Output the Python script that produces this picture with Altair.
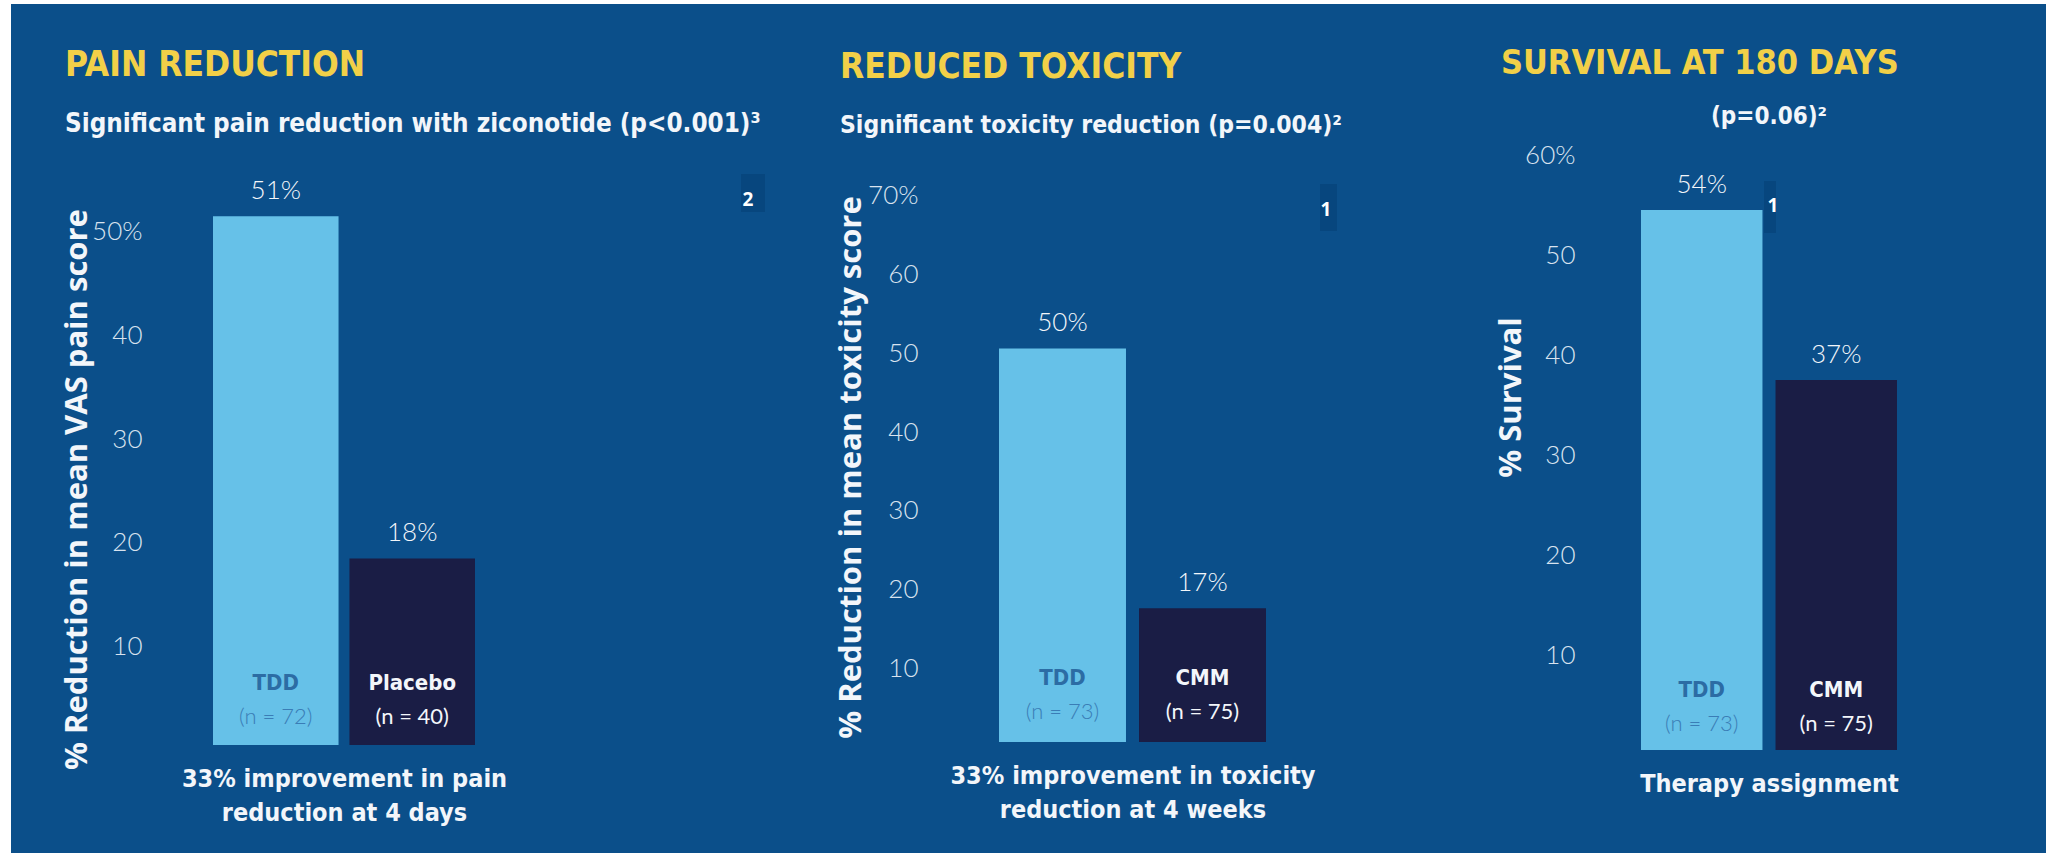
import altair as alt
import pandas as pd

# ---------------- data ----------------
pain_groups = ["TDD", "Placebo"]
pain_values = [51, 18]
pain_n = ["(n = 72)", "(n = 40)"]
pain_ticks = [10, 20, 30, 40, 50]

tox_groups = ["TDD", "CMM"]
tox_values = [50, 17]
tox_n = ["(n = 73)", "(n = 75)"]
tox_ticks = [10, 20, 30, 40, 50, 60, 70]

surv_groups = ["TDD", "CMM"]
surv_values = [54, 37]
surv_n = ["(n = 73)", "(n = 75)"]
surv_ticks = [10, 20, 30, 40, 50, 60]

panel_titles = ["PAIN REDUCTION", "REDUCED TOXICITY", "SURVIVAL AT 180 DAYS"]
panel_subtitles = ["Significant pain reduction with ziconotide (p<0.001)³",
                   "Significant toxicity reduction (p=0.004)²",
                   "(p=0.06)²"]
y_titles = ["% Reduction in mean VAS pain score",
            "% Reduction in mean toxicity score",
            "% Survival"]
captions = [["33% improvement in pain", "reduction at 4 days"],
            ["33% improvement in toxicity", "reduction at 4 weeks"],
            ["Therapy assignment"]]
footnote_marks = ["2", "1", "1"]

# ---------------- styles ----------------
BG = "#0b4f8a"
LIGHT = "#66c1e8"
DARK = "#1a1d45"
YELLOW = "#f2d048"
WHITE = "#f3f6fa"
TICK = "#d9e3ef"
TDD_TXT = "#2c6ca4"
NOTE_BOX = "#07467e"
NARROW = "Liberation Sans Narrow, DejaVu Sans Condensed, Roboto, sans-serif"
WIDE = "Open Sans, DejaVu Sans, sans-serif"
LIGHTF = "Lato, Roboto, sans-serif"

# layout of each panel (plot-area relative)
cfgs = [
    dict(W=786, bars_w=262, pi=0.08, H=595, ymax=57.4, lab_pad=71, yt=(-136, 339),
         title_dx=-148, title_size=35, sub_size=25.8, name_dy=-62, n_dy=-28,
         box=(528, 552, 24, 62), note=(535, 50)),
    dict(W=642, bars_w=267, pi=0.093, H=592, ymax=75.2, lab_pad=81, yt=(-148, 317),
         title_dx=-159, title_size=35, sub_size=24.5, name_dy=-64, n_dy=-30,
         box=(321, 338, 34, 81), note=(327, 60)),
    dict(W=256, bars_w=256, pi=0.097, H=600, ymax=60.0, lab_pad=66, yt=(-130, 247),
         title_dx=-140, title_size=34, sub_size=24, name_dy=-60, n_dy=-26,
         box=(123, 135, 31, 83), note=(132, 56)),
]


def panel(i, groups, values, ns, ticks):
    c = cfgs[i]
    df = pd.DataFrame({
        "group": groups,
        "value": values,
        "n": ns,
        "kind": ["treatment", "comparator"],
        "label": [f"{v}%" for v in values],
        "base": [0] * len(groups),
    })
    x = alt.X("group:N", sort=groups,
              scale=alt.Scale(range=[0, c["bars_w"]], paddingInner=c["pi"], paddingOuter=0),
              axis=alt.Axis(labels=False, ticks=False, domain=False, grid=False,
                            title=captions[i], titleX=c["bars_w"] / 2, titleAlign="center",
                            titleBaseline="top", titlePadding=21, titleFont=NARROW,
                            titleFontSize=25, titleFontWeight="bold", titleColor=WHITE,
                            titleLineHeight=34))

    def yenc(field):
        return alt.Y(field,
                     scale=alt.Scale(domain=[0, c["ymax"]], nice=False, zero=True),
                     axis=alt.Axis(values=ticks, grid=False, ticks=False, tickSize=0, domain=False,
                                   labelExpr=f"datum.value == {ticks[-1]} ? datum.label + '%' : datum.label",
                                   labelPadding=c["lab_pad"], labelOffset=5, labelFont=LIGHTF,
                                   labelFontSize=26, labelFontWeight=300, labelColor=TICK,
                                   labelOverlap=False,
                                   title=y_titles[i], titleX=c["yt"][0], titleY=c["yt"][1],
                                   titleAngle=270, titleAlign="center", titleBaseline="middle",
                                   titleFont=WIDE, titleFontSize=31, titleFontWeight="bold",
                                   titleColor=WHITE))

    base = alt.Chart(df)
    bars = base.mark_bar().encode(
        x=x, y=yenc("value:Q"),
        color=alt.Color("kind:N", scale=alt.Scale(domain=["treatment", "comparator"],
                                                  range=[LIGHT, DARK]), legend=None))
    vals = base.mark_text(font=LIGHTF, fontSize=26, fontWeight=300, color=WHITE,
                          baseline="middle", dy=-25).encode(x=x, y=yenc("value:Q"), text="label:N")
    t_name = base.transform_filter(alt.datum.kind == "treatment").mark_text(
        font=NARROW, fontSize=22, fontWeight="bold", color=TDD_TXT, baseline="middle",
        dy=c["name_dy"]).encode(x=x, y=yenc("base:Q"), text="group:N")
    t_n = base.transform_filter(alt.datum.kind == "treatment").mark_text(
        font=LIGHTF, fontSize=22, fontWeight=300, color="#3a7db6", baseline="middle",
        dy=c["n_dy"]).encode(x=x, y=yenc("base:Q"), text="n:N")
    c_name = base.transform_filter(alt.datum.kind == "comparator").mark_text(
        font=NARROW, fontSize=22, fontWeight="bold", color=WHITE, baseline="middle",
        dy=c["name_dy"]).encode(x=x, y=yenc("base:Q"), text="group:N")
    c_n = base.transform_filter(alt.datum.kind == "comparator").mark_text(
        font=LIGHTF, fontSize=22, fontWeight=400, color=WHITE, baseline="middle",
        dy=c["n_dy"]).encode(x=x, y=yenc("base:Q"), text="n:N")

    note_df = pd.DataFrame({"mark": [footnote_marks[i]]})
    bx1, bx2, by1, by2 = c["box"]
    note_box = alt.Chart(note_df).mark_rect(color=NOTE_BOX).encode(
        x=alt.value(bx1), x2=alt.value(bx2), y=alt.value(by1), y2=alt.value(by2))
    note_txt = alt.Chart(note_df).mark_text(font=WIDE, fontSize=19, fontWeight="bold",
                                            color="white", baseline="middle").encode(
        x=alt.value(c["note"][0]), y=alt.value(c["note"][1]), text="mark:N")

    layers = [note_box, bars, vals, t_name, t_n, c_name, c_n, note_txt]

    if i < 2:
        title = alt.TitleParams(text=panel_titles[i], subtitle=panel_subtitles[i],
                                anchor="start", frame="group", dx=c["title_dx"], offset=13,
                                font=NARROW, fontSize=c["title_size"], fontWeight="bold",
                                color=YELLOW, subtitleFont=NARROW, subtitleFontSize=c["sub_size"],
                                subtitleFontWeight="bold", subtitleColor=WHITE,
                                subtitlePadding=29)
    else:
        sub_df = pd.DataFrame({"t": [panel_subtitles[i]]})
        sub = alt.Chart(sub_df).mark_text(font=NARROW, fontSize=c["sub_size"], fontWeight="bold",
                                          color=WHITE, baseline="middle").encode(
            x=alt.value(c["bars_w"] / 2), y=alt.value(-33), text="t:N")
        layers.append(sub)
        title = alt.TitleParams(text=panel_titles[i], anchor="start", frame="group",
                                dx=c["title_dx"], offset=24, font=NARROW,
                                fontSize=c["title_size"], fontWeight="bold", color=YELLOW)

    return alt.layer(*layers).properties(width=c["W"], height=c["H"], title=title)


p1 = panel(0, pain_groups, pain_values, pain_n, pain_ticks)
p2 = panel(1, tox_groups, tox_values, tox_n, tox_ticks)
p3 = panel(2, surv_groups, surv_values, surv_n, surv_ticks)

# white screenshot edges (left and top), drawn from the last panel's origin
strip_df = pd.DataFrame({"k": [0]})
X0, Y0 = 1897, 150
left_strip = alt.Chart(strip_df).mark_rect(color="white").encode(
    x=alt.value(-X0), x2=alt.value(-X0 + 11), y=alt.value(-Y0), y2=alt.value(853 - Y0))
top_strip = alt.Chart(strip_df).mark_rect(color="white").encode(
    x=alt.value(-X0), x2=alt.value(2046 - X0), y=alt.value(-Y0), y2=alt.value(-Y0 + 4))
p4 = alt.layer(left_strip, top_strip).properties(width=1, height=1)

chart = alt.hconcat(p1, p2, p3, p4, spacing=0, bounds="flush").properties(
    background=BG, padding=0).configure_view(stroke=None)

chart.save("out.html", embed_options={"renderer": "svg", "actions": False})
